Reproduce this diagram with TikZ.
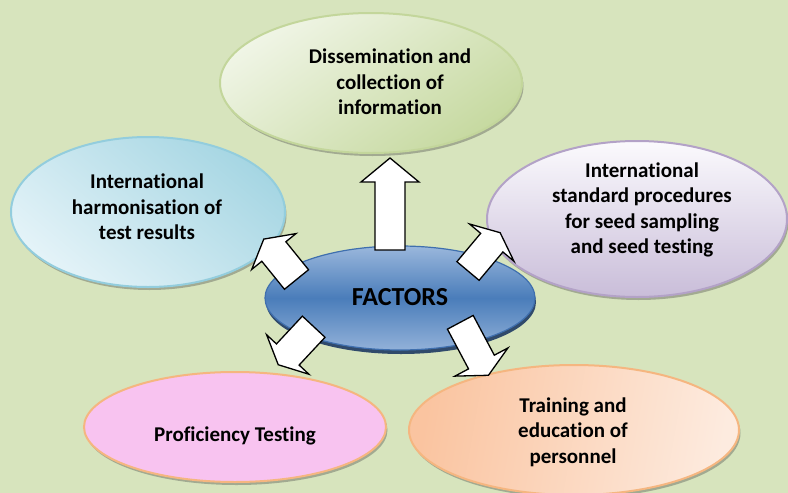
\documentclass[tikz,border=0pt]{standalone}
\usepackage{fontspec}
\setmainfont{Carlito}[Ligatures={NoCommon,NoContextual}]
\usetikzlibrary{shapes.geometric,shadows}

\definecolor{bgcol}{HTML}{D7E4BD}
\definecolor{greenA}{HTML}{F0F5E6}
\definecolor{greenB}{HTML}{C6D9A0}
\definecolor{greenE}{HTML}{C3D69B}
\definecolor{cyanA}{HTML}{E4F3F8}
\definecolor{cyanB}{HTML}{A6D6E3}
\definecolor{cyanE}{HTML}{93CDDD}
\definecolor{lilacA}{HTML}{FBFAFD}
\definecolor{lilacB}{HTML}{C9BDD9}
\definecolor{lilacE}{HTML}{B3A2C7}
\definecolor{pinkF}{HTML}{F8C3F0}
\definecolor{peachE}{HTML}{F5B680}
\definecolor{peachA}{HTML}{FAC4A0}
\definecolor{peachB}{HTML}{FDEBDF}
\definecolor{navyA}{HTML}{9AB7DC}
\definecolor{navyB}{HTML}{4A7DBA}
\definecolor{navyE}{HTML}{3F6FAE}
\definecolor{navyS}{HTML}{1E3A63}

\tikzset{
  factor/.style={ellipse, inner sep=0pt, line width=2pt,
    drop shadow={shadow xshift=1.5pt, shadow yshift=-3pt, opacity=0.35, fill=black!75}},
  caption/.style={align=center, text=black,
    font=\fontsize{21}{25.5}\selectfont\bfseries},
  blockarrow/.style={fill=white, draw=black, line width=1.3pt, line join=miter},
}

% block arrow: base centre (#1,#2), direction #3 (degrees),
% shaft length #4, head length #5, shaft half width #6, head half width #7
\newcommand\blockarr[7]{%
  \begin{scope}[shift={(#1,#2)}, rotate=#3, x=1pt, y=1pt]
    \path[blockarrow] (0,-#6) -- (#4,-#6) -- (#4,-#7) -- ({#4+#5},0)
      -- (#4,#7) -- (#4,#6) -- (0,#6) -- cycle;
  \end{scope}}

\begin{document}
\begin{tikzpicture}[x=1pt, y=-1pt]
  \useasboundingbox (0,0) rectangle (788,493);
  \fill[bgcol] (0,0) rectangle (788,493);

  % outer factor ellipses
  \node[factor, draw=greenE, top color=greenA, bottom color=greenB, shading angle=35,
        minimum width=302pt, minimum height=140pt] (info) at (371,83) {};
  \node[factor, draw=cyanE, top color=cyanB, bottom color=cyanA, shading angle=-40,
        minimum width=274pt, minimum height=150pt] (harm) at (148,212) {};
  \node[factor, draw=lilacE, top color=lilacA, bottom color=lilacB,
        minimum width=300pt, minimum height=156pt] (proc) at (637,219) {};
  \node[factor, draw=peachE, fill=pinkF,
        minimum width=302pt, minimum height=110pt] (prof) at (235,427) {};
  \node[factor, draw=peachE, left color=peachA, right color=peachB, shading angle=80,
        minimum width=330pt, minimum height=130pt] (train) at (574,430) {};

  % central ellipse
  \node[ellipse, inner sep=0pt, line width=1.2pt, draw=navyE,
        top color=navyA, bottom color=navyA!90!navyB, middle color=navyB,
        drop shadow={shadow xshift=1pt, shadow yshift=-4pt, opacity=0.9, fill=navyS},
        minimum width=270pt, minimum height=104pt] (fac) at (400,298) {};

  % captions
  \node[caption] (t-info) at (390,82) {Dissemination and\\collection of\\information};
  \node[caption] (t-harm) at (147,207) {International\\harmonisation of\\test results};
  \node[caption] (t-proc) at (642,210) {International\\standard procedures\\for seed sampling\\and seed testing};
  \node[caption] (t-prof) at (235,436) {Proficiency Testing};
  \node[caption] (t-train) at (573,432) {Training and\\education of\\personnel};
  \node[caption, font=\fontsize{26}{30}\selectfont\bfseries] (t-fac) at (400,297) {FACTORS};

  % block arrows from the centre
  \blockarr{390}{250}{90}{68}{24}{15}{29}
  \blockarr{296.5}{279.5}{129}{36}{16}{15.5}{28.5}
  \blockarr{468}{271}{50}{37}{13}{14.5}{29}
  \blockarr{313.7}{326.7}{227}{38}{14}{15.5}{29}
  \blockarr{460.3}{322.3}{-62}{45}{15}{14.6}{30}
\end{tikzpicture}
\end{document}
